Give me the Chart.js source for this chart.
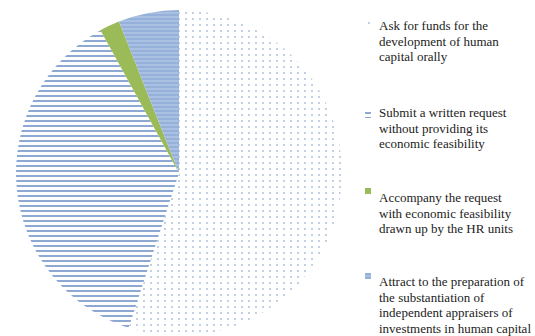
<!DOCTYPE html>
<html>
<head>
<meta charset="utf-8">
<script src="https://cdn.jsdelivr.net/npm/chart.js@4"></script>
<style>
  body { margin: 0; background: #fff; width: 535px; height: 336px; overflow: hidden; position: relative; }
  #wrap { position: absolute; left: 0; top: 10px; width: 358px; height: 326px; }
  .item { position: absolute; left: 379px; font-family: "Liberation Serif", serif; font-size: 13px; line-height: 15.5px; color: #222; white-space: nowrap; }
  .mark { position: absolute; left: 365px; width: 6px; height: 6px; }
</style>
</head>
<body>
<div id="wrap"><canvas id="chart"></canvas></div>
<div id="legend"></div>
<script>
const labels = [
  ['Ask for funds for the', 'development of human', 'capital orally'],
  ['Submit a written request', 'without providing its', 'economic feasibility'],
  ['Accompany the request', 'with economic feasibility', 'drawn up by the HR units'],
  ['Attract to the preparation of', 'the substantiation of', 'independent appraisers of', 'investments in human capital']
];
const values = [55, 37, 2, 6];
const fills = ['dots', 'lines', '#9bbb59', 'blue'];

const legendTops = [18, 105, 190, 274];
const markTops = [20, 112, 188, 273];

// small canvas tiles used as patterns
function makeTile(kind) {
  const c = document.createElement('canvas');
  const ctx = c.getContext('2d');
  if (kind === 'dots') {
    c.width = 7; c.height = 6;
    ctx.fillStyle = '#ffffff'; ctx.fillRect(0, 0, 7, 6);
    ctx.fillStyle = '#c3d0e3'; ctx.fillRect(3, 2, 2, 2);
  } else if (kind === 'lines') {
    c.width = 4; c.height = 5;
    ctx.fillStyle = '#ffffff'; ctx.fillRect(0, 0, 4, 5);
    ctx.fillStyle = '#8ca8d3'; ctx.fillRect(0, 0, 4, 2);
  } else {
    c.width = 4; c.height = 4;
    ctx.fillStyle = '#a9c0e2'; ctx.fillRect(0, 0, 4, 4);
    ctx.fillStyle = '#95b0d9'; ctx.fillRect(0, 0, 4, 2);
  }
  return c;
}

const tmp = document.createElement('canvas').getContext('2d');
const colors = fills.map(f => f.startsWith('#') ? f : tmp.createPattern(makeTile(f), 'repeat'));

const legend = document.getElementById('legend');
labels.forEach((lines, i) => {
  const m = document.createElement('canvas');
  m.className = 'mark';
  m.width = 6; m.height = 6;
  m.style.top = markTops[i] + 'px';
  const mctx = m.getContext('2d');
  mctx.fillStyle = colors[i];
  mctx.fillRect(0, 0, 6, 6);
  legend.appendChild(m);

  const d = document.createElement('div');
  d.className = 'item';
  d.style.top = legendTops[i] + 'px';
  d.innerHTML = lines.join('<br>');
  legend.appendChild(d);
});

new Chart(document.getElementById('chart'), {
  type: 'pie',
  data: {
    labels: labels.map(l => l.join(' ')),
    datasets: [{
      data: values,
      backgroundColor: colors,
      borderWidth: 0
    }]
  },
  options: {
    responsive: true,
    maintainAspectRatio: false,
    animation: false,
    layout: { padding: 0 },
    plugins: {
      legend: { display: false },
      tooltip: { enabled: false }
    }
  }
});
</script>
</body>
</html>
